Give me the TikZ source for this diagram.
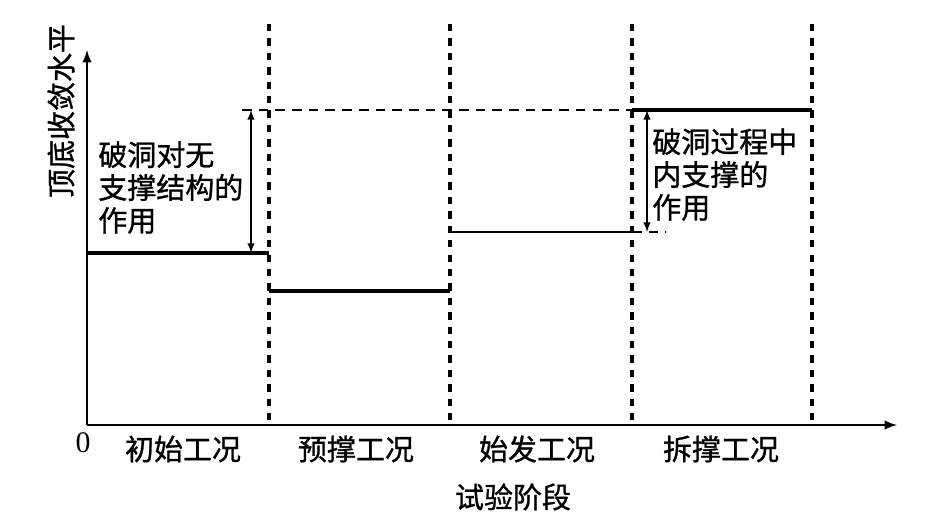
\documentclass[tikz,border=0pt]{standalone}
\usepackage{fontspec}
\setmainfont{Liberation Serif}
\newfontfamily\cjk[FakeBold=1]{Noto Sans CJK SC}
\usetikzlibrary{arrows, positioning}

\begin{document}
\begin{tikzpicture}[x=0.02cm, y=-0.02cm]%
        \tikzstyle{annot} = [font=\cjk\fontsize{16.5}{18.7}\selectfont, inner sep=0pt, align=left]
        \tikzstyle{axis} = [-latex, line width=1.4pt]
        \tikzstyle{level} = [line width=2.2pt]
        \tikzstyle{bound} = [line width=1.9pt, dash pattern=on 4.2pt off 4pt]
        \tikzstyle{guide} = [line width=0.7pt, dash pattern=on 5.5pt off 4pt]
        \tikzstyle{span} = [latex-latex, line width=0.9pt]

        \useasboundingbox (0,0) rectangle (933,526);

        \coordinate (origin) at (87,425);
        \coordinate (xend) at (897,425);
        \coordinate (yend) at (87,50);
        \draw[axis] (origin) -- (xend);
        \draw[axis] (origin) -- (yend);

        \foreach \x [count=\i] in {269, 450, 632, 812}{
          \coordinate (top\i) at (\x,24);
          \coordinate (bot\i) at (\x,425);
          \draw[bound] (top\i) -- (bot\i);
        }

        % levels of each stage
        \coordinate (init0) at (87,253);
        \coordinate (init1) at (269,253);
        \coordinate (pre0) at (269,291);
        \coordinate (pre1) at (450,291);
        \coordinate (start0) at (450,232);
        \coordinate (start1) at (632,232);
        \coordinate (rem0) at (632,110);
        \coordinate (rem1) at (812,110);
        \draw[level] (init0) -- (init1);
        \draw[level] (pre0) -- (pre1);
        \draw[line width=1.3pt] (start0) -- (start1);
        \draw[level] (rem0) -- (rem1);

        \coordinate (guideA) at (242,110);
        \coordinate (guideB) at (666,232);
        \draw[guide] (guideA) -- (rem0);
        \draw[guide] (start1) -- (guideB);

        \coordinate (spanAtop) at (251,110);
        \coordinate (spanAbot) at (251,253);
        \coordinate (spanBtop) at (647,110);
        \coordinate (spanBbot) at (647,232);
        \draw[span] (spanAtop) -- (spanAbot);
        \draw[span] (spanBtop) -- (spanBbot);

        \node[annot, anchor=north west] (effectA) at (98,141) {破洞对无\\支撑结构的\\作用};
        \node[annot, anchor=north west] (effectB) at (652,128) {破洞过程中\\内支撑的\\作用};

        \foreach \x/\t [count=\i] in {183/初始工况, 356/预撑工况, 537/始发工况, 721/拆撑工况}{
          \node[annot] (stage\i) at (\x,449) {\t};
        }

        \node[font=\fontsize{17}{20}\selectfont, inner sep=0pt] (zero) at (83,443) {0};
        \node[annot] (xlabel) at (513,497) {试验阶段};
        \node[annot, rotate=90] (ylabel) at (61,111) {顶底收敛水平};
      \end{tikzpicture}
\end{document}
